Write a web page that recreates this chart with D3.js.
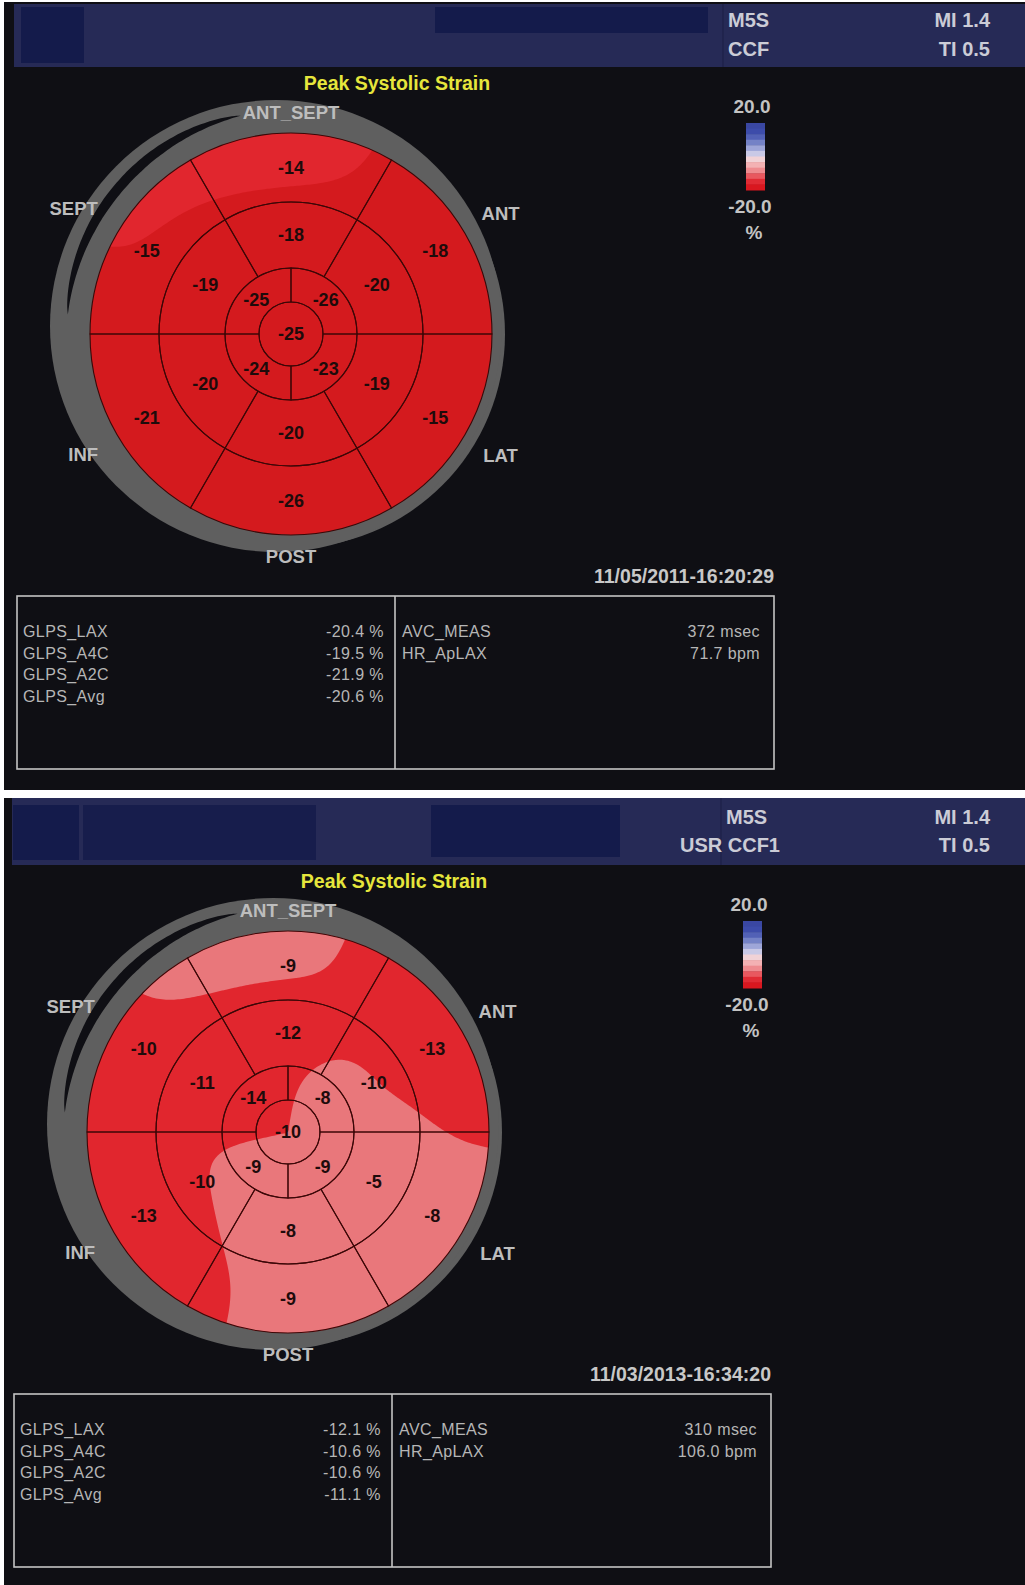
<!DOCTYPE html>
<html><head><meta charset="utf-8">
<script src="https://cdn.jsdelivr.net/npm/d3@7"></script>
<style>body{margin:0;background:#fff}svg{display:block}</style>
</head><body><script>
// ---------------- DATA ----------------
const title = "Peak Systolic Strain";
const directionLabels = ["ANT_SEPT","ANT","LAT","POST","INF","SEPT"];
// basal & mid order: top, upper-right, lower-right, bottom, lower-left, upper-left
const basal1 = [-14,-18,-15,-26,-21,-15];
const mid1   = [-18,-20,-19,-20,-20,-19];
// apical order: upper-right, lower-right, lower-left, upper-left
const apical1 = [-26,-23,-24,-25];
const apex1 = -25;
const basal2 = [-9,-13,-8,-9,-13,-10];
const mid2   = [-12,-10,-5,-8,-10,-11];
const apical2 = [-8,-9,-9,-14];
const apex2 = -10;
const glpsLabels = ["GLPS_LAX","GLPS_A4C","GLPS_A2C","GLPS_Avg"];
const glps1 = [-20.4,-19.5,-21.9,-20.6];
const glps2 = [-12.1,-10.6,-10.6,-11.1];
const measLabels = ["AVC_MEAS","HR_ApLAX"];
const avcValues = [372,310];
const hrValues = [71.7,106.0];
const measUnits = ["msec","bpm"];
const dates = ["11/05/2011-16:20:29","11/03/2013-16:34:20"];
const headerLeft1 = ["M5S","CCF"];
const headerLeft2 = ["M5S","USR CCF1"];
const headerRight = ["MI 1.4","TI 0.5"];
const legendTicks = [20.0,-20.0];
const legendUnit = "%";
const legendColors = ["#3a47a2","#3d4caa","#5261b6","#7482c6","#9ea6d8","#c9c9e6","#f1d2d6","#f3b1b3","#ee8b8f","#e8585f","#e02b34","#d9171f"];
const strainBreaks = [-15.5,-9.9,-4];
const strainColors = ["#d41a1e","#e1262e","#e9777b","#f2b5b6"];

// ---------------- SETUP ----------------
const W = 1025, H = 1585;
const svg = d3.select("body").append("svg").attr("width",W).attr("height",H);
svg.append("rect").attr("width",W).attr("height",H).attr("fill","#ffffff");

const loc = d3.formatLocale({decimal:".", thousands:",", grouping:[3], currency:["",""], minus:"-"});
const FONT = "'Liberation Sans', Arial, sans-serif";
const strainColor = d3.scaleThreshold().domain(strainBreaks).range(strainColors);
const legendScale = d3.scaleQuantize().domain([-20,20]).range(legendColors.slice().reverse());
const rings = {outer:201, mid:132, apical:66, apex:32};
const rad = Math.PI/180;
const polar = (r,deg) => [r*Math.sin(deg*rad), -r*Math.cos(deg*rad)];
const angDiff = (a,b) => { let d = Math.abs(a-b) % (2*Math.PI); return d > Math.PI ? 2*Math.PI-d : d; };

const panels = [
  {bg:[4,2,1021,788], header:{x:14,y:4,w:1011,h:63}, rects:[[21,7,63,56],[435,7,273,26]], divider:723,
   left:headerLeft1, leftPos:[[728,"start"],[728,"start"]], yLines:[27,55.5],
   dx:0, dy:0, basal:basal1, mid:mid1, apical:apical1, apex:apex1, glps:glps1, avc:avcValues[0], hr:hrValues[0], date:dates[0]},
  {bg:[4,798,1021,787], header:{x:12,y:798,w:1013,h:67}, rects:[[13,805,66,55],[83,805,233,55],[431,805,189,52]], divider:721,
   left:headerLeft2, leftPos:[[726,"start"],[780,"end"]], yLines:[824,852],
   dx:-3, dy:798, basal:basal2, mid:mid2, apical:apical2, apex:apex2, glps:glps2, avc:avcValues[1], hr:hrValues[1], date:dates[1]}
];

panels.forEach((P,pi)=>{
  // background
  svg.append("rect").attr("x",P.bg[0]).attr("y",P.bg[1]).attr("width",P.bg[2]).attr("height",P.bg[3]).attr("fill","#0f0f14");
  // header
  svg.append("rect").attr("x",P.header.x).attr("y",P.header.y).attr("width",P.header.w).attr("height",P.header.h).attr("fill","#262a56");
  P.rects.forEach((r,k)=>svg.append("rect").attr("x",r[0]).attr("y",r[1]).attr("width",r[2]).attr("height",r[3])
     .attr("fill", k===1 && pi===1 ? "#171d4c" : "#141b4b"));
  svg.append("line").attr("x1",P.divider).attr("x2",P.divider).attr("y1",P.header.y).attr("y2",P.header.y+P.header.h)
     .attr("stroke","#1d2149").attr("stroke-width",1.2);
  P.left.forEach((t,k)=>svg.append("text").attr("x",P.leftPos[k][0]).attr("y",P.yLines[k]).attr("text-anchor",P.leftPos[k][1])
     .attr("font-family",FONT).attr("font-weight","bold").attr("font-size",20).attr("fill","#cbccd6").text(t));
  headerRight.forEach((t,k)=>svg.append("text").attr("x",990).attr("y",P.yLines[k]).attr("text-anchor","end")
     .attr("font-family",FONT).attr("font-weight","bold").attr("font-size",20).attr("fill","#cbccd6").text(t));

  const g = svg.append("g").attr("transform",`translate(${P.dx},${P.dy})`);

  // title
  g.append("text").attr("x",397).attr("y",90).attr("text-anchor","middle").attr("font-family",FONT)
   .attr("font-weight","bold").attr("font-size",19.5).attr("fill","#e6e63c").text(title);

  // ---- bull's eye ----
  const cx = 291, cy = 334;
  const be = g.append("g").attr("transform",`translate(${cx},${cy})`);
  // grey rim
  be.append("circle").attr("r",214).attr("fill","#5f5f5f");
  be.append("circle").attr("cx",-15).attr("cy",-8).attr("r",226).attr("fill","#5f5f5f");
  const gapPts = d3.range(0,1.0001,0.02).map(t=>{
    const s = Math.sin(Math.PI*t);
    const r0 = 224 - 3*s;
    return {a:(-13 + (-85+13)*t)*rad, r0:r0, r1:r0 + 10*Math.pow(s,0.7)};
  });
  be.append("path").attr("d", d3.areaRadial().angle(d=>d.a).innerRadius(d=>d.r0).outerRadius(d=>d.r1).curve(d3.curveBasis)(gapPts))
    .attr("fill","#0f0f14");

  // sample points for the strain field
  const pts = [];
  const rB = (rings.outer+rings.mid)/2, rM = (rings.mid+rings.apical)/2, rA = (rings.apical+rings.apex)/2;
  const add = (r,deg,v) => { const p = polar(r,deg); pts.push({x:p[0], y:p[1], r:r, th:deg*rad, v:v}); };
  P.basal.forEach((v,i)=>add(rB,i*60,v));
  P.mid.forEach((v,i)=>add(rM,i*60,v));
  P.apical.forEach((v,i)=>add(rA,45+i*90,v));
  add(0,0,P.apex);

  // smooth field in polar coordinates (radial + angular kernel)
  const n = 205, step = 2, g0 = -204, sigR = 35, sigT = 25*rad;
  const vals = new Array(n*n);
  for(let j=0;j<n;j++) for(let i=0;i<n;i++){
    const x=g0+i*step, y=g0+j*step;
    const r = Math.hypot(x,y), th = Math.atan2(x,-y);
    let sw=0, sv=0;
    for(const p of pts){
      const dr = (r-p.r)/sigR;
      const dt = p.r>0 ? angDiff(th,p.th)/sigT : 0;
      const w = Math.exp(-(dr*dr+dt*dt)/2);
      sw+=w; sv+=w*p.v;
    }
    vals[j*n+i] = sv/sw;
  }
  const clipId = "clip"+pi;
  be.append("clipPath").attr("id",clipId).append("circle").attr("r",rings.outer);
  const field = be.append("g").attr("clip-path",`url(#${clipId})`);
  field.append("circle").attr("r",rings.outer).attr("fill",strainColor(d3.min(vals)));
  const contours = d3.contours().size([n,n]).thresholds(strainBreaks)(vals);
  const path = d3.geoPath(d3.geoTransform({point:function(x,y){this.stream.point(g0+(x-0.5)*step, g0+(y-0.5)*step);}}));
  field.selectAll("path.c").data(contours).join("path").attr("class","c").attr("d",path).attr("fill",d=>strainColor(d.value));

  // segment outlines
  const arc = d3.arc();
  const segs = [];
  d3.range(6).forEach(i=>segs.push({innerRadius:rings.mid,outerRadius:rings.outer,startAngle:(i*60-30)*rad,endAngle:(i*60+30)*rad}));
  d3.range(6).forEach(i=>segs.push({innerRadius:rings.apical,outerRadius:rings.mid,startAngle:(i*60-30)*rad,endAngle:(i*60+30)*rad}));
  d3.range(4).forEach(i=>segs.push({innerRadius:rings.apex,outerRadius:rings.apical,startAngle:(i*90)*rad,endAngle:(i*90+90)*rad}));
  be.selectAll("path.seg").data(segs).join("path").attr("class","seg").attr("d",arc)
    .attr("fill","none").attr("stroke","#3c0707").attr("stroke-width",1.1);
  be.append("circle").attr("r",rings.apex).attr("fill","none").attr("stroke","#3c0707").attr("stroke-width",1.1);

  // values
  be.selectAll("text.v").data(pts).join("text").attr("class","v")
    .attr("x",d=>d.x).attr("y",d=>d.y).attr("dy","0.36em").attr("text-anchor","middle")
    .attr("font-family",FONT).attr("font-weight","bold").attr("font-size",18).attr("fill","#1e0b0b")
    .text(d=>loc.format("d")(d.v));

  // direction labels
  const labelR = [222,242,242,222,240,251];
  be.selectAll("text.dir").data(directionLabels).join("text").attr("class","dir")
    .attr("x",(d,i)=>polar(labelR[i],i*60)[0]).attr("y",(d,i)=>polar(labelR[i],i*60)[1])
    .attr("dy","0.36em").attr("text-anchor","middle")
    .attr("font-family",FONT).attr("font-weight","bold").attr("font-size",18.5).attr("fill","#bdbdbd")
    .text(d=>d);

  // ---- colour bar ----
  const barY = d3.scaleLinear().domain([20,-20]).range([123,190]);
  const cells = d3.range(legendColors.length).map(i=>{const s=40/legendColors.length; return {hi:20-i*s, lo:20-(i+1)*s};});
  g.selectAll("rect.lg").data(cells).join("rect").attr("class","lg")
    .attr("x",746).attr("width",19).attr("y",d=>barY(d.hi)).attr("height",d=>barY(d.lo)-barY(d.hi)+0.5)
    .attr("fill",d=>legendScale((d.hi+d.lo)/2));
  const f1 = loc.format(".1f");
  g.append("text").attr("x",752).attr("y",113).attr("text-anchor","middle").attr("font-family",FONT)
   .attr("font-weight","bold").attr("font-size",19).attr("fill","#c3c3c3").text(f1(legendTicks[0]));
  g.append("text").attr("x",750).attr("y",213).attr("text-anchor","middle").attr("font-family",FONT)
   .attr("font-weight","bold").attr("font-size",19).attr("fill","#c3c3c3").text(f1(legendTicks[1]));
  g.append("text").attr("x",754).attr("y",239).attr("text-anchor","middle").attr("font-family",FONT)
   .attr("font-weight","bold").attr("font-size",19).attr("fill","#c3c3c3").text(legendUnit);

  // ---- date ----
  g.append("text").attr("x",774).attr("y",583).attr("text-anchor","end").attr("font-family",FONT)
   .attr("font-weight","bold").attr("font-size",19.5).attr("fill","#c8c8c8").text(P.date);

  // ---- table ----
  g.append("rect").attr("x",17).attr("y",596).attr("width",757).attr("height",173)
   .attr("fill","none").attr("stroke","#c4c4c4").attr("stroke-width",1.6);
  g.append("line").attr("x1",395).attr("x2",395).attr("y1",596).attr("y2",769).attr("stroke","#c4c4c4").attr("stroke-width",1.6);
  const rowY = d3.scalePoint().domain(d3.range(4)).range([637,702]);
  const tStyle = s => s.attr("font-family",FONT).attr("font-size",16).attr("letter-spacing",0.4).attr("fill","#b6b6b6");
  glpsLabels.forEach((l,i)=>{
    tStyle(g.append("text").attr("x",23).attr("y",rowY(i))).text(l);
    tStyle(g.append("text").attr("x",384).attr("y",rowY(i)).attr("text-anchor","end")).text(f1(P.glps[i])+" %");
  });
  const measVals = [loc.format("d")(P.avc), f1(P.hr)];
  measLabels.forEach((l,i)=>{
    tStyle(g.append("text").attr("x",402).attr("y",rowY(i))).text(l);
    tStyle(g.append("text").attr("x",760).attr("y",rowY(i)).attr("text-anchor","end")).text(measVals[i]+" "+measUnits[i]);
  });
});
</script></body></html>
